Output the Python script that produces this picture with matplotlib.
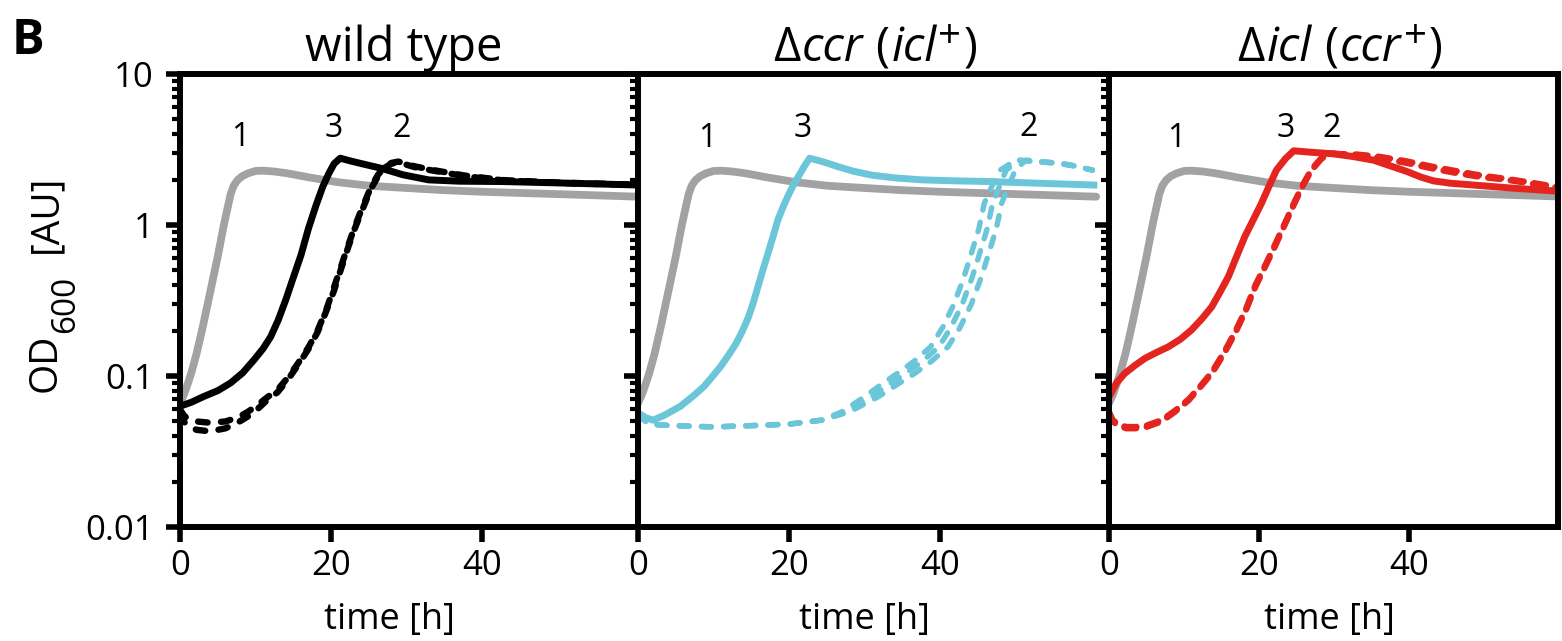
import matplotlib
matplotlib.use("Agg")
import matplotlib.pyplot as plt

plt.rcParams['font.family'] = ['Open Sans', 'DejaVu Sans']

# ---- data (time in h, OD600 in AU) ----
# control strain, curve "1" (same in all three panels)
ctrl_t = [0, 0.5, 1, 1.5, 2.2, 3, 4, 5, 5.8, 6.3, 6.7, 7.1, 7.6, 8.2, 9.0, 10, 11, 12.5, 14.2, 17, 20.9, 25,
          29.8, 35, 40, 45, 52, 60.6]
ctrl_od = [0.066, 0.075, 0.088, 0.105, 0.141, 0.21, 0.36, 0.62, 1.0, 1.3, 1.6, 1.82, 1.98, 2.1, 2.2, 2.28, 2.29,
           2.26, 2.2, 2.07, 1.92, 1.82, 1.76, 1.7, 1.66, 1.63, 1.59, 1.54]

# wild type, curve "3" (solid)
wt3_t = [0, 1.5, 3.1, 5, 6.7, 8.3, 9.8, 11, 12, 13, 14, 15, 16, 17, 18, 18.9, 19.7, 20.4, 21.2, 22.5, 24, 26.7,
         29.5, 32.9, 37, 42.7, 50, 60.6]
wt3_od = [0.063, 0.067, 0.073, 0.08, 0.09, 0.105, 0.128, 0.152, 0.182, 0.235, 0.32, 0.45, 0.63, 0.95, 1.35, 1.8,
          2.2, 2.55, 2.77, 2.66, 2.55, 2.37, 2.15, 1.99, 1.95, 1.94, 1.9, 1.84]
# wild type, curve "2" (dashed, two replicates)
wt2_t = [0, 0.5, 1, 2.2, 4, 6, 7.6, 9, 10.2, 11.5, 12.9, 14.3, 15.6, 17, 18.2, 19.3, 20.4, 21.3, 22.2, 23.1, 24,
         25.3, 26.2, 27.1, 28, 28.9, 31, 33.3, 35.5, 37.8, 43, 50, 60.6]
wt2a_od = [0.06, 0.055, 0.052, 0.05, 0.049, 0.05, 0.053, 0.058, 0.064, 0.072, 0.081, 0.098, 0.121, 0.155, 0.2,
           0.27, 0.39, 0.53, 0.72, 0.97, 1.26, 1.8, 2.15, 2.43, 2.58, 2.63, 2.45, 2.32, 2.22, 2.12, 1.98, 1.91,
           1.85]
wt2b_od = [0.056, 0.05, 0.047, 0.044, 0.043, 0.045, 0.049, 0.054, 0.06, 0.069, 0.078, 0.095, 0.118, 0.151,
           0.195, 0.265, 0.37, 0.51, 0.70, 0.94, 1.22, 1.75, 2.1, 2.4, 2.55, 2.6, 2.42, 2.3, 2.2, 2.1, 1.97,
           1.9, 1.84]

# delta ccr, curve "3" (solid)
ccr3_t = [0, 1, 2, 3.5, 5.6, 7.2, 8.7, 9.9, 10.9, 12, 13, 13.8, 14.6, 15.2, 15.8, 16.5, 17.2, 17.9, 18.5, 19.2,
          19.8, 20.5, 21.2, 22, 22.7, 24.5, 26.5, 28.5, 30.9, 34, 37.6, 42, 46.5, 53, 60.3]
ccr3_od = [0.057, 0.053, 0.051, 0.055, 0.063, 0.073, 0.085, 0.1, 0.115, 0.138, 0.165, 0.198, 0.245, 0.3, 0.38,
           0.5, 0.65, 0.85, 1.08, 1.32, 1.54, 1.82, 2.09, 2.45, 2.77, 2.62, 2.43, 2.27, 2.14, 2.05, 1.99, 1.96,
           1.94, 1.89, 1.84]
# delta ccr, curve "2" (dashed, three replicates)
ccr2_od = [0.055, 0.048, 0.047, 0.046, 0.047, 0.048, 0.051, 0.058, 0.073, 0.088, 0.104, 0.125, 0.156, 0.21,
           0.3, 0.45, 0.65, 0.95, 1.39, 1.8, 2.31, 2.69, 2.62, 2.57, 2.45, 2.31]
ccr2a_t = [0, 1.5, 4.3, 10, 15.4, 20, 24.3, 27, 30, 32.2, 34.3, 36.5, 38.7, 40.3, 41.8, 43.1, 44.1, 45.1, 45.8,
           46.8, 47.9, 50, 53, 55.4, 58, 60.1]
ccr2b_t = [0, 1.5, 4.3, 10, 15.4, 20, 24.3, 27.5, 30.9, 33.2, 35.4, 37.6, 39.8, 41.4, 42.9, 44.2, 45.2, 46.2,
           46.9, 47.8, 48.7, 50.5, 53, 55.4, 58, 60.1]
ccr2c_t = [0, 1.5, 4.3, 10, 15.4, 20, 24.3, 28, 31.8, 34.3, 36.6, 38.8, 41, 42.6, 44.1, 45.4, 46.4, 47.4, 48.1,
           49, 49.9, 51.3, 53.5, 55.8, 58, 60.1]

# delta icl, curve "3" (solid)
icl3_t = [0, 1, 2.1, 3.5, 4.8, 6.3, 7.9, 9.5, 11, 12.4, 13.7, 14.8, 15.9, 17, 18.1, 19.2, 20.3, 21.3, 22.3,
          23.5, 24.6, 27, 29.9, 32.5, 35.2, 37.5, 39.7, 41.5, 43.2, 45.5, 48.5, 54, 60.3]
icl3_od = [0.073, 0.09, 0.104, 0.118, 0.131, 0.143, 0.156, 0.175, 0.202, 0.24, 0.288, 0.36, 0.455, 0.62, 0.84,
           1.08, 1.39, 1.8, 2.31, 2.75, 3.1, 3.03, 2.96, 2.84, 2.69, 2.46, 2.26, 2.08, 1.96, 1.89, 1.84, 1.75,
           1.67]
# delta icl, curve "2" (dashed, two replicates)
icl2_t = [0, 0.5, 1.2, 2.3, 3.5, 5, 7, 8.8, 10.6, 12.2, 13.7, 15.3, 16.8, 18.2, 19.5, 20.8, 22.1, 23.4, 24.7,
          25.9, 27, 28.3, 29.7, 32.8, 35.9, 39.7, 43, 46.4, 49.5, 53, 56.5, 60.3]
icl2a_od = [0.057, 0.05, 0.047, 0.045, 0.045, 0.046, 0.05, 0.058, 0.069, 0.085, 0.104, 0.14, 0.192, 0.27, 0.39,
            0.53, 0.72, 1.0, 1.39, 1.85, 2.31, 2.75, 2.98, 2.9, 2.78, 2.57, 2.37, 2.2, 2.08, 1.99, 1.87, 1.75]
icl2b_od = [0.058, 0.051, 0.048, 0.046, 0.046, 0.047, 0.051, 0.059, 0.07, 0.086, 0.106, 0.143, 0.196, 0.275,
            0.4, 0.54, 0.74, 1.02, 1.42, 1.88, 2.35, 2.78, 2.95, 2.94, 2.84, 2.64, 2.44, 2.27, 2.13, 2.02, 1.9,
            1.76]

# title pieces: (text, italic, size factor, raise in px, gap after in px)
titles = [[('wild type', False, 1, 0, 0)],
          [('Δ', False, 1, 0, 2), ('ccr', True, 1, 0, 12), ('(', False, 1, 0, 2), ('icl', True, 1, 0, 2),
           ('+', False, 0.85, 13, 2), (')', False, 1, 0, 0)],
          [('Δ', False, 1, 0, 2), ('icl', True, 1, 0, 12), ('(', False, 1, 0, 2), ('ccr', True, 1, 0, 2),
           ('+', False, 0.85, 13, 2), (')', False, 1, 0, 0)]]
colors = ['black', '#6cc6d9', '#e3241f']
gray = '#a2a2a4'
# label positions (time, OD) for "1", "3", "2"
labels_pos = [[(8, 3.77), (20.4, 4.33), (29.3, 4.33)],
              [(9.1, 3.72), (21.8, 4.33), (51.7, 4.4)],
              [(9.0, 3.72), (23.5, 4.38), (29.7, 4.38)]]

W, H = 1562, 641
edges = [180, 638, 1109, 1558]
y_bot, y_top = 527, 74
xmaxes = [60.6, 62.3, 59.8]
xlab_center = [27.7, 30.0, 29.4]

fig = plt.figure(figsize=(W / 100, H / 100), dpi=100)
renderer = fig.canvas.get_renderer()

solid = [(wt3_t, wt3_od), (ccr3_t, ccr3_od), (icl3_t, icl3_od)]
dashed = [[(wt2_t, wt2a_od), (wt2_t, wt2b_od)],
          [(ccr2a_t, ccr2_od), (ccr2b_t, ccr2_od), (ccr2c_t, ccr2_od)],
          [(icl2_t, icl2a_od), (icl2_t, icl2b_od)]]
dash_lw = [4.6, 3.9, 4.4]
dash_pat = [(1.5, 2.1), (1.8, 2.3), (2.0, 1.7)]


def place_pieces(pieces, x_center, y_base, size):
    # lay text pieces out left to right, centred at x_center (pixels from left), baseline y_base (px from top)
    objs, widths = [], []
    for s, it, f, dy, gap in pieces:
        t = fig.text(0, 0, s, fontsize=size * f, style='italic' if it else 'normal', ha='left', va='baseline')
        objs.append(t)
        widths.append(t.get_window_extent(renderer).width)
    total = sum(widths) + sum(p[4] for p in pieces)
    x = x_center - total / 2
    for t, w, p in zip(objs, widths, pieces):
        t.set_position((x / W, 1 - (y_base - p[3]) / H))
        x += w + p[4]


for i in range(3):
    ax = fig.add_axes([edges[i] / W, 1 - y_bot / H, (edges[i + 1] - edges[i]) / W, (y_bot - y_top) / H])
    ax.plot(ctrl_t, ctrl_od, color=gray, lw=5.6, solid_capstyle='round', solid_joinstyle='round')
    for t, od in dashed[i]:
        ax.plot(t, od, color=colors[i], lw=dash_lw[i], linestyle=(0, dash_pat[i]), dash_capstyle='round')
    ax.plot(solid[i][0], solid[i][1], color=colors[i], lw=5.0, solid_joinstyle='round')

    ax.set_yscale('log')
    ax.set_ylim(0.01, 10)
    ax.set_xlim(0, xmaxes[i])
    ax.set_xticks([0, 20, 40])
    ax.set_yticks([0.01, 0.1, 1, 10])
    ax.set_yticklabels(['0.01', '0.1', '1', '10'])
    for s in ax.spines.values():
        s.set_linewidth(4.3)
    ax.tick_params(axis='x', which='major', direction='out', length=11, width=4, labelsize=25, pad=5)
    ax.tick_params(axis='x', which='minor', bottom=False)
    ax.tick_params(axis='y', which='major', direction='out', length=10, width=4, labelsize=25, pad=9)
    ax.tick_params(axis='y', which='minor', direction='out', length=6, width=3)
    if i > 0:
        ax.tick_params(axis='y', which='both', labelleft=False)

    ax.set_xlabel('time [h]', fontsize=26)
    ax.xaxis.set_label_coords(xlab_center[i] / xmaxes[i], -0.165)

    for txt, (tx, ty) in zip(['1', '3', '2'], labels_pos[i]):
        ax.text(tx, ty, txt, fontsize=23, ha='center', va='center')

    place_pieces(titles[i], [404, 875, 1340][i], 61, 34)

# y label: OD, subscript 600, [AU] stacked bottom to top
ylab = [('OD', 28, 0, 1), ('600', 24, 18, 22), ('[AU]', 28, 0, 0)]
y_start = 392
for s, size, dx, gap in ylab:
    t = fig.text(56 / W + dx / W, 1 - y_start / H, s, fontsize=size, rotation=90, rotation_mode='anchor',
                 ha='left', va='baseline')
    probe = fig.text(0, 0, s, fontsize=size)
    w = probe.get_window_extent(renderer).width
    probe.remove()
    y_start -= w + gap

fig.text(12 / W, 1 - 54 / H, 'B', fontsize=35, fontweight='bold', ha='left', va='baseline')

fig.savefig('out.png', dpi=100)
